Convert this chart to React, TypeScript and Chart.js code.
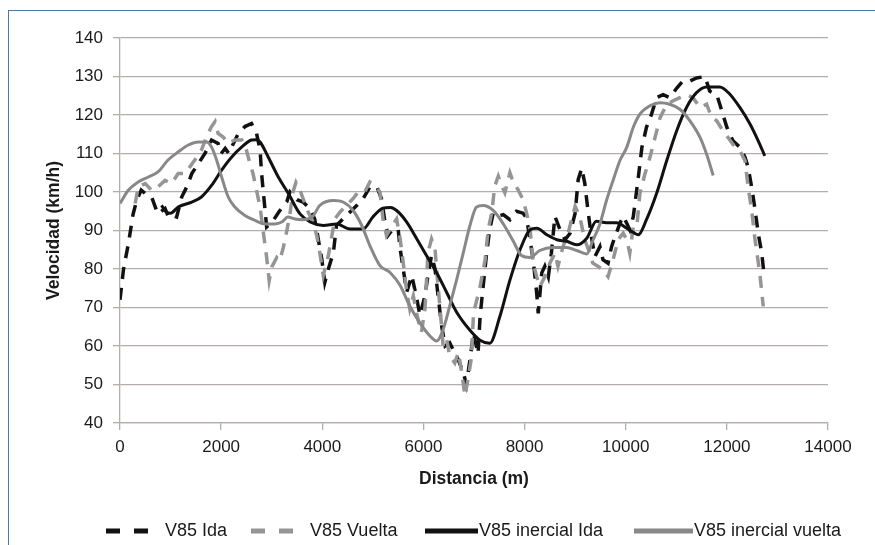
import React, { useEffect, useRef } from "react";
import { Chart, registerables } from "chart.js";

Chart.register(...registerables);

// V85 Ida (black dashed)
const idaDist = [0, 70, 165, 260, 330, 420, 500, 625, 700, 750, 890, 960, 1020, 1120, 1220, 1320, 1420, 1550, 1680, 1810, 1940, 2000, 2080, 2150, 2210, 2340, 2470, 2600, 2700, 2770, 2800, 2850, 2900, 3000, 3150, 3300, 3360, 3500, 3620, 3760, 3850, 3920, 3990, 4050, 4120, 4220, 4280, 4410, 4550, 4680, 4810, 4940, 5080, 5170, 5240, 5300, 5400, 5500, 5540, 5600, 5670, 5770, 5870, 5930, 6030, 6090, 6160, 6230, 6290, 6360, 6430, 6520, 6590, 6690, 6790, 6850, 6920, 6990, 7080, 7120, 7180, 7250, 7310, 7380, 7450, 7580, 7710, 7840, 7970, 8040, 8170, 8240, 8270, 8340, 8400, 8470, 8530, 8600, 8700, 8800, 8900, 9000, 9060, 9130, 9190, 9260, 9320, 9390, 9490, 9550, 9650, 9720, 9790, 9890, 9950, 10020, 10080, 10150, 10250, 10320, 10410, 10510, 10610, 10740, 10870, 11010, 11130, 11270, 11400, 11570, 11660, 11800, 11860, 12000, 12120, 12260, 12360, 12420, 12490, 12550, 12620, 12690, 12740];
const idaSpeed = [72, 80, 86.5, 94.3, 97.8, 100.5, 99.6, 98.7, 96, 94.3, 95.7, 93.5, 94, 93.5, 98.7, 101.3, 104.8, 107.4, 110, 113.5, 112.6, 110, 111.3, 110, 111.7, 115.2, 117, 117.8, 115.2, 110.9, 104.8, 97.8, 90.9, 92, 95, 97.5, 100, 98, 97.4, 95.6, 93, 87.8, 82.6, 76.5, 80, 84.3, 91.3, 93, 94.8, 96.5, 98.3, 101.3, 101.3, 98.3, 92.2, 88.7, 90.4, 90.4, 85.2, 80, 74, 78.3, 72.2, 68, 73, 78.3, 83.5, 80, 73, 65.2, 60, 60.8, 59, 56.4, 53, 50, 56.4, 63.3, 58, 67.6, 75.4, 84.1, 90.2, 94.5, 93.7, 94.1, 92.8, 95, 94.5, 93.2, 82.4, 73.7, 68.5, 79, 80.7, 78, 84.1, 93.7, 90.2, 87.6, 89.3, 94.5, 103.2, 106.2, 102.3, 94.5, 88.5, 83.2, 85.8, 82.4, 81.5, 85.8, 88.5, 92, 93.7, 91.9, 90.2, 93.6, 103.9, 111.6, 116.8, 120.2, 124.5, 125.3, 124.5, 127, 128.8, 128.8, 129.6, 130, 126.2, 125.3, 122.8, 116.8, 113.3, 111.6, 109, 106.4, 101.3, 96.1, 89.3, 84.1, 78];

// V85 Vuelta (grey dashed)
const vueltaDist = [300, 360, 500, 625, 750, 890, 1020, 1150, 1290, 1380, 1520, 1610, 1710, 1810, 1880, 1940, 2040, 2140, 2270, 2410, 2500, 2570, 2630, 2700, 2770, 2830, 2900, 2950, 3000, 3100, 3160, 3230, 3300, 3360, 3420, 3480, 3560, 3620, 3720, 3820, 3890, 3950, 4020, 4120, 4190, 4250, 4350, 4480, 4610, 4710, 4840, 4940, 5040, 5140, 5200, 5270, 5340, 5470, 5540, 5600, 5670, 5730, 5800, 5890, 5960, 6030, 6090, 6160, 6230, 6260, 6330, 6390, 6460, 6520, 6620, 6690, 6760, 6820, 6880, 6950, 6990, 7120, 7220, 7280, 7350, 7410, 7480, 7550, 7610, 7710, 7770, 7870, 7970, 8040, 8110, 8170, 8240, 8300, 8400, 8500, 8600, 8660, 8760, 8860, 8930, 9000, 9090, 9190, 9290, 9350, 9450, 9550, 9650, 9750, 9850, 9950, 10020, 10080, 10150, 10220, 10280, 10380, 10480, 10580, 10680, 10810, 10940, 11070, 11200, 11330, 11470, 11600, 11700, 11800, 11920, 12020, 12120, 12260, 12360, 12420, 12490, 12550, 12650, 12720];
const vueltaSpeed = [97, 101.3, 102.2, 100.4, 101.3, 103, 102.2, 104.8, 104.8, 106.5, 109.1, 110.9, 114.3, 117, 118.3, 115.2, 114.3, 112.6, 113.5, 113.5, 110.9, 107.4, 104.8, 100.4, 96.1, 90, 83, 77, 80.5, 83, 82.2, 85.6, 90, 94.3, 100, 102.5, 100.5, 98.3, 94.8, 92.2, 88.7, 84.3, 78.3, 83.5, 88.7, 93, 94.8, 96.5, 98.3, 100, 100, 102.6, 101.7, 100, 93, 88.7, 90.4, 93, 87.8, 81.7, 74, 69.6, 73, 67, 63.5, 69.6, 84.3, 87.8, 85.2, 80, 69.6, 60, 61.7, 57.4, 55.6, 58.3, 53, 47, 51.3, 57, 68.5, 75.4, 82.4, 90.2, 94.5, 101.5, 104.1, 101.5, 99.8, 105, 102.8, 100.6, 98, 94.5, 90.2, 81.5, 78, 75.4, 78, 81.5, 84.1, 80.7, 85.8, 89.3, 92.8, 96.3, 93.7, 87.6, 84.1, 81.5, 80.7, 79.8, 78, 82.4, 87.6, 89.3, 87.6, 84.1, 91, 91, 99.6, 104.7, 109, 114.2, 119.3, 122.8, 123.7, 124.5, 125.3, 124.5, 121.9, 122.8, 119.3, 118.5, 115.9, 114.2, 112.4, 110.7, 108.1, 101.3, 95.3, 88.4, 79, 70.3];

// V85 inercial Ida (black solid)
const inercialIdaDist = [820, 900, 1000, 1150, 1420, 1610, 1810, 2010, 2210, 2410, 2600, 2700, 2770, 2930, 3130, 3330, 3560, 3760, 4020, 4280, 4550, 4810, 5000, 5200, 5350, 5470, 5670, 5870, 6060, 6260, 6460, 6660, 6920, 7120, 7310, 7510, 7710, 7910, 8110, 8240, 8440, 8640, 8830, 9030, 9230, 9420, 9620, 9820, 10020, 10150, 10250, 10410, 10610, 10810, 11010, 11200, 11400, 11600, 11860, 12060, 12260, 12460, 12620, 12750];
const inercialIdaSpeed = [96.5, 95, 94.5, 96.1, 97.4, 98.7, 101.7, 105.7, 109.1, 111.7, 113.5, 113.6, 113, 109.1, 103.9, 99.6, 94.3, 92.2, 91.3, 91.7, 90.4, 90.4, 93.5, 95.8, 96, 95.2, 92.2, 87.8, 83.5, 79.1, 73.9, 68.7, 64.1, 61.5, 60.7, 67.6, 77.1, 85, 90.2, 90.6, 88.9, 87.6, 87.2, 86.3, 88, 92.4, 92, 92, 90.6, 89.5, 88.9, 92.8, 99.6, 108.1, 116, 121.9, 125.8, 127.3, 127.3, 125.4, 121.9, 117.6, 113.3, 109.4];

// V85 inercial vuelta (grey solid)
const inercialVueltaDist = [0, 160, 360, 560, 750, 950, 1150, 1350, 1550, 1710, 1810, 1910, 2010, 2140, 2270, 2470, 2670, 2870, 3060, 3200, 3320, 3460, 3600, 3800, 3950, 4220, 4410, 4610, 4780, 4940, 5140, 5340, 5540, 5730, 5930, 6130, 6260, 6390, 6520, 6660, 6790, 6920, 7050, 7180, 7380, 7580, 7770, 7940, 8110, 8300, 8560, 8830, 9030, 9230, 9350, 9490, 9620, 9750, 9890, 10020, 10150, 10280, 10480, 10680, 10870, 11070, 11270, 11470, 11600, 11730];
const inercialVueltaSpeed = [97, 100.4, 102.6, 103.9, 105.2, 108.3, 110.4, 112.2, 113, 113, 111.7, 108.3, 103.9, 98.7, 96.1, 93.9, 92.6, 91.7, 91.7, 92.2, 93.5, 93, 92.8, 93.5, 96.5, 97.8, 97.4, 95.2, 91.3, 86.1, 80.9, 79.1, 75.7, 70.4, 66, 62.6, 61.3, 64.3, 70.4, 77.4, 84.3, 91.3, 96.1, 96.5, 95.2, 91.7, 87.4, 83.5, 83, 84.8, 85.6, 85.6, 84.8, 83.9, 87.4, 91.7, 97.8, 103, 108.3, 111.6, 116.8, 120.2, 122.4, 123.2, 122.8, 121.5, 118.5, 114.2, 109.8, 104.3];

const seriesLabels = ["V85 Ida", "V85 Vuelta", "V85 inercial Ida", "V85 inercial vuelta"];
const xTitle = "Distancia (m)";
const yTitle = "Velocidad (km/h)";

const FONT = '"Liberation Sans", Arial, sans-serif';
const BLACK = "#111111";
const GREY_DASH = "#959595";
const GREY_SOLID = "#888888";
const GRID = "#b5adab";

export default function App() {
  const ref = useRef<HTMLCanvasElement>(null);

  useEffect(() => {
    const pts = (xs: number[], ys: number[]) => xs.map((x, i) => ({ x, y: ys[i] }));

    const legendItems = [
      { label: seriesLabels[0], color: BLACK, dash: [14, 14], x0: 106, x1: 148, tx: 165 },
      { label: seriesLabels[1], color: GREY_DASH, dash: [14, 14], x0: 251, x1: 293, tx: 310 },
      { label: seriesLabels[2], color: BLACK, dash: [], x0: 425, x1: 478, tx: 479 },
      { label: seriesLabels[3], color: GREY_SOLID, dash: [], x0: 634, x1: 693, tx: 694 },
    ];

    const legendPlugin = {
      id: "excelLegend",
      afterDraw(chart: any) {
        const ctx = chart.ctx;
        ctx.save();
        const yc = 531;
        legendItems.forEach((it) => {
          ctx.beginPath();
          ctx.setLineDash(it.dash);
          ctx.lineWidth = 5;
          ctx.strokeStyle = it.color;
          ctx.lineCap = "butt";
          ctx.moveTo(it.x0, yc);
          ctx.lineTo(it.x1, yc);
          ctx.stroke();
          ctx.setLineDash([]);
          ctx.fillStyle = "#1a1a1a";
          ctx.font = `18px ${FONT}`;
          ctx.textBaseline = "middle";
          ctx.textAlign = "left";
          ctx.fillText(it.label, it.tx, yc);
        });
        ctx.restore();
      },
    };

    const chart = new Chart(ref.current as HTMLCanvasElement, {
      type: "line",
      data: {
        datasets: [
          {
            label: seriesLabels[0],
            data: pts(idaDist, idaSpeed),
            borderColor: BLACK,
            borderWidth: 3.5,
            borderDash: [12, 9],
            pointRadius: 0,
            tension: 0,
            order: 4,
          },
          {
            label: seriesLabels[1],
            data: pts(vueltaDist, vueltaSpeed),
            borderColor: GREY_DASH,
            borderWidth: 3.5,
            borderDash: [12, 9],
            pointRadius: 0,
            tension: 0,
            order: 3,
          },
          {
            label: seriesLabels[2],
            data: pts(inercialIdaDist, inercialIdaSpeed),
            borderColor: BLACK,
            borderWidth: 3,
            pointRadius: 0,
            cubicInterpolationMode: "monotone",
            order: 2,
          },
          {
            label: seriesLabels[3],
            data: pts(inercialVueltaDist, inercialVueltaSpeed),
            borderColor: GREY_SOLID,
            borderWidth: 3,
            pointRadius: 0,
            cubicInterpolationMode: "monotone",
            order: 1,
          },
        ],
      },
      options: {
        animation: false,
        responsive: false,
        devicePixelRatio: 1,
        layout: { padding: { left: 44, right: 47, top: 38, bottom: 55 } },
        plugins: {
          legend: { display: false },
          tooltip: { enabled: false },
        },
        scales: {
          x: {
            type: "linear",
            min: 0,
            max: 14000,
            ticks: {
              stepSize: 2000,
              color: "#1a1a1a",
              font: { family: FONT, size: 17 },
              padding: 7,
              maxRotation: 0,
              callback: (v: any) => String(v),
            },
            grid: {
              drawOnChartArea: false,
              drawTicks: true,
              tickLength: 7,
              color: GRID,
              lineWidth: 1.3,
            },
            border: { display: true, color: GRID, width: 1.3 },
            title: {
              display: true,
              text: xTitle,
              color: "#1a1a1a",
              font: { family: FONT, size: 17.5, weight: "bold" },
              padding: 0,
            },
            afterFit: (s: any) => {
              s.height = 67;
              s.paddingLeft = 0;
              s.paddingRight = 0;
            },
          },
          y: {
            type: "linear",
            min: 40,
            max: 140,
            ticks: {
              stepSize: 10,
              color: "#1a1a1a",
              font: { family: FONT, size: 17 },
              padding: 10,
              callback: (v: any) => String(v),
            },
            grid: {
              drawOnChartArea: true,
              drawTicks: true,
              tickLength: 7,
              color: GRID,
              lineWidth: 1.3,
            },
            border: { display: true, color: GRID, width: 1.3 },
            title: {
              display: true,
              text: yTitle,
              color: "#1a1a1a",
              font: { family: FONT, size: 17.5, weight: "bold" },
              padding: 0,
            },
            afterFit: (s: any) => {
              s.width = 76;
              s.paddingTop = 0;
              s.paddingBottom = 0;
            },
          },
        },
      },
      plugins: [legendPlugin],
    });
    return () => chart.destroy();
  }, []);

  return (
    <div style={{ position: "fixed", left: 0, top: 0, width: 875, height: 545, background: "#ffffff", overflow: "hidden" }}>
      <div
        style={{
          position: "absolute",
          left: 8,
          top: 10,
          width: 900,
          height: 600,
          borderLeft: "1px solid #4a78a8",
          borderTop: "1px solid #4a78a8",
        }}
      />
      <canvas ref={ref} width={875} height={545} style={{ position: "absolute", left: 0, top: 0, width: 875, height: 545 }} />
    </div>
  );
}
